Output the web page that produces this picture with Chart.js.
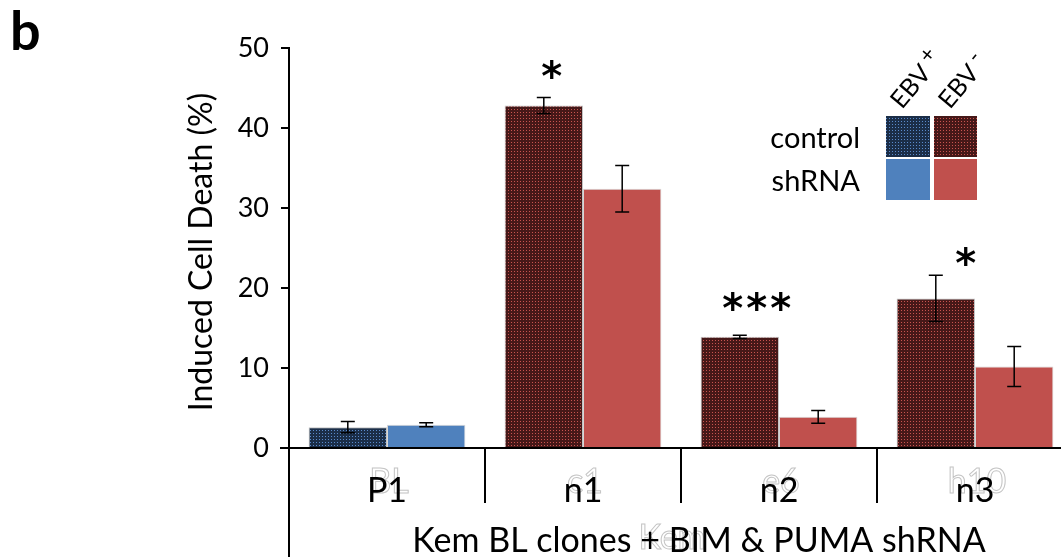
<!DOCTYPE html>
<html>
<head>
<meta charset="utf-8">
<script src="https://cdn.jsdelivr.net/npm/chart.js@4.4.1/dist/chart.umd.min.js"></script>
<style>
  html, body { margin: 0; padding: 0; background: #fff; overflow: hidden; }
  #wrap { width: 1075px; height: 557px; position: relative; }
</style>
</head>
<body>
<div id="wrap"><canvas id="myChart" width="1075" height="557"></canvas></div>
<script>
// data
const categories = ['P1', 'n1', 'n2', 'n3'];
const ghostLabels = ['BL', 'c1', 'e6', 'h10'];
const ebvPositive = [true, false, false, false];
const controlValues = [2.6, 42.8, 13.9, 18.7];
const controlErrors = [0.7, 1.0, 0.2, 2.9];
const shrnaValues = [2.9, 32.4, 3.9, 10.2];
const shrnaErrors = [0.25, 2.9, 0.8, 2.5];
const stars = ['', '*', '***', '*'];
const starLevels = [null, 47.5, 18.5, 24.1];
const yTicks = [0, 10, 20, 30, 40, 50];

const FONT = 'Lato, "Open Sans", sans-serif';
const canvas = document.getElementById('myChart');
const ctx = canvas.getContext('2d');

function makePattern(base, dot) {
    let c = document.createElement('canvas');
    c.width = 3; c.height = 3;
    let g = c.getContext('2d');
    g.fillStyle = base;
    g.fillRect(0, 0, 3, 3);
    g.fillStyle = dot;
    g.fillRect(1, 1, 1, 1);
    return ctx.createPattern(c, 'repeat');
}
const blueHatch = makePattern('#1b2e48', '#5a8acb');
const redHatch = makePattern('#461818', '#c8544f');
const blueFlat = '#4f81bd';
const redFlat = '#c0504d';

const controlColors = ebvPositive.map(p => p ? blueHatch : redHatch);
const shrnaColors = ebvPositive.map(p => p ? blueFlat : redFlat);

const extras = {
    id: 'extras',
    afterDatasetsDraw(chart) {
        const c = chart.ctx;
        const y = chart.scales.y;
        const errs = [controlErrors, shrnaErrors];
        const vals = [controlValues, shrnaValues];
        // error bars
        c.save();
        c.strokeStyle = '#000';
        c.lineWidth = 1.5;
        for (let d = 0; d < 2; d++) {
            const meta = chart.getDatasetMeta(d);
            meta.data.forEach((bar, i) => {
                const top = y.getPixelForValue(vals[d][i] + errs[d][i]);
                const bot = y.getPixelForValue(vals[d][i] - errs[d][i]);
                c.beginPath();
                c.moveTo(bar.x, top); c.lineTo(bar.x, bot);
                c.moveTo(bar.x - 7, top); c.lineTo(bar.x + 7, top);
                c.moveTo(bar.x - 7, bot); c.lineTo(bar.x + 7, bot);
                c.stroke();
            });
        }
        // significance stars
        c.fillStyle = '#000';
        c.font = 'bold 40px "DejaVu Sans", sans-serif';
        c.textAlign = 'center';
        c.textBaseline = 'alphabetic';
        const starShift = [0, 8, 17, 30];
        const meta0 = chart.getDatasetMeta(0);
        stars.forEach((s, i) => {
            if (!s) return;
            const cy = y.getPixelForValue(starLevels[i]);
            const cx = meta0.data[i].x + starShift[i];
            for (let k = 0; k < s.length; k++) {
                c.fillText('*', cx + (k - (s.length - 1) / 2) * 24, cy + 22);
            }
        });
        c.restore();
    },
    afterDraw(chart) {
        const c = chart.ctx;
        const x = chart.scales.x;
        const area = chart.chartArea;
        c.save();
        // y axis line continues down
        c.strokeStyle = '#000';
        c.lineWidth = 2;
        c.beginPath();
        c.moveTo(area.left, area.bottom);
        c.lineTo(area.left, 557);
        c.moveTo(area.left - 9, area.bottom);
        c.lineTo(area.left, area.bottom);
        c.stroke();
        // ghost labels
        c.textAlign = 'center';
        c.textBaseline = 'middle';
        c.font = '34px ' + FONT;
        c.strokeStyle = '#c4c4c4';
        c.lineWidth = 1;
        categories.forEach((lab, i) => {
            const px = x.getPixelForValue(i);
            c.strokeText(ghostLabels[i], px + 2, 482);
        });
        c.strokeText('Kem', 672, 538);
        // category labels
        c.fillStyle = '#000';
        categories.forEach((lab, i) => {
            const px = x.getPixelForValue(i);
            c.fillText(lab, px, 491);
        });
        // axis title
        c.font = '34px ' + FONT;
        c.fillText('Kem BL clones + BIM & PUMA shRNA', 699, 541);
        // y title
        c.save();
        c.translate(202, 252);
        c.rotate(-Math.PI / 2);
        c.font = '32px ' + FONT;
        c.fillText('Induced Cell Death (%)', 0, 0);
        c.restore();
        // panel letter
        c.font = 'bold 54px ' + FONT;
        c.textAlign = 'left';
        c.textBaseline = 'alphabetic';
        c.fillText('b', 10, 50);
        // legend
        c.font = '29px ' + FONT;
        c.textAlign = 'right';
        c.textBaseline = 'middle';
        c.fillText('control', 860, 139);
        c.fillText('shRNA', 860, 182);
        c.fillStyle = blueHatch; c.fillRect(886, 116, 44, 41);
        c.fillStyle = redHatch; c.fillRect(934, 116, 43, 41);
        c.fillStyle = blueFlat; c.fillRect(886, 159, 44, 41);
        c.fillStyle = redFlat; c.fillRect(934, 159, 43, 41);
        c.fillStyle = '#000';
        const heads = [['EBV', '+', 902], ['EBV', '-', 950]];
        heads.forEach(h => {
            c.save();
            c.translate(h[2], 110);
            c.rotate(-50 * Math.PI / 180);
            c.textAlign = 'left';
            c.textBaseline = 'alphabetic';
            c.font = '25px ' + FONT;
            c.fillText(h[0], 0, 0);
            const w = c.measureText(h[0]).width;
            c.font = '22px ' + FONT;
            c.fillText(h[1], w + 5, -9);
            c.restore();
        });
        c.restore();
    }
};

chart = new Chart(canvas, {
    type: 'bar',
    data: {
        labels: categories,
        datasets: [
            {
                label: 'control',
                data: controlValues,
                backgroundColor: controlColors,
                borderColor: 'rgba(190,190,190,0.9)',
                borderWidth: 1,
                categoryPercentage: 0.8,
                barPercentage: 1.0,
            },
            {
                label: 'shRNA',
                data: shrnaValues,
                backgroundColor: shrnaColors,
                borderColor: 'rgba(210,210,210,0.9)',
                borderWidth: 1,
                categoryPercentage: 0.8,
                barPercentage: 1.0,
            },
        ],
    },
    options: {
        responsive: false,
        animation: false,
        layout: { padding: { top: 48, left: 0, right: 2, bottom: 0 } },
        scales: {
            y: {
                min: 0,
                max: 50,
                afterFit: (s) => { s.width = 289; },
                afterBuildTicks: (s) => { s.ticks = yTicks.map(v => ({ value: v })); },
                ticks: {
                    color: '#000',
                    font: { size: 27, family: FONT },
                    padding: 12,
                },
                grid: {
                    drawOnChartArea: false,
                    color: '#000',
                    lineWidth: 2,
                    tickLength: 8,
                },
                border: { color: '#000', width: 2 },
            },
            x: {
                afterFit: (s) => { s.height = 109; },
                ticks: { display: false },
                grid: {
                    offset: true,
                    drawOnChartArea: false,
                    color: '#000',
                    lineWidth: 2,
                    tickLength: 55,
                },
                border: { color: '#000', width: 2 },
            },
        },
        plugins: {
            legend: { display: false },
            tooltip: { enabled: false },
        },
    },
    plugins: [extras],
});
</script>
</body>
</html>
